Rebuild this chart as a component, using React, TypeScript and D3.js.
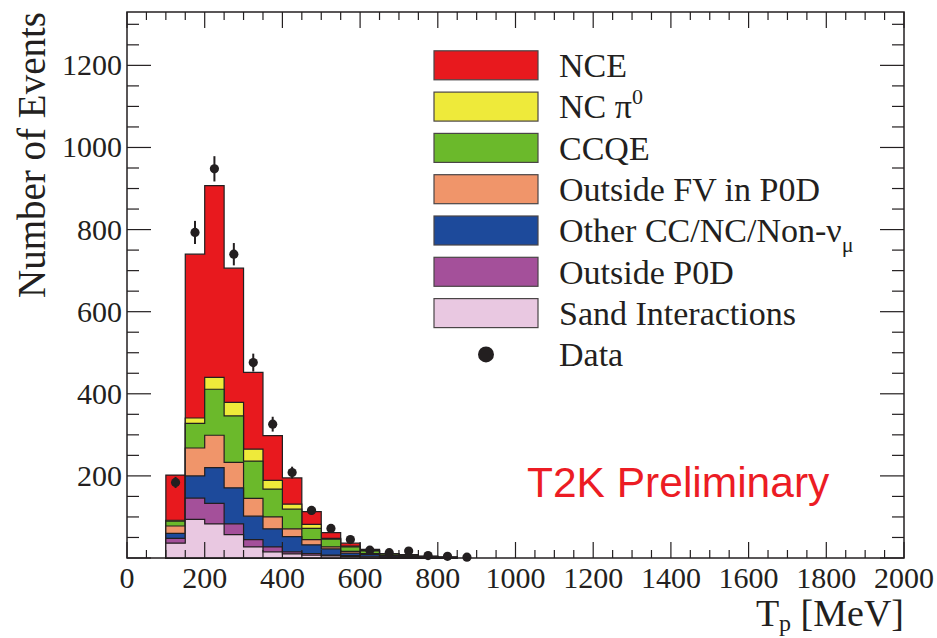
import React from "react";
import * as d3 from "d3";

// Proton kinetic energy bins (lower edges, MeV), 50 MeV wide
const binLow = [100, 150, 200, 250, 300, 350, 400, 450, 500, 550, 600, 650, 700, 750, 800];
const binWidth = 50;

// MC components, bottom of the stack first
const sand = [36, 94, 83, 57, 27, 15, 10, 7, 5, 4, 3, 2, 1, 1, 0];
const outsideP0D = [12, 52, 50, 26, 18, 12, 5, 4, 2, 2, 1, 1, 1, 0, 0];
const otherCC = [12, 54, 87, 88, 57, 44, 37, 21, 15, 6, 5, 3, 2, 1, 1];
const outsideFV = [18, 68, 79, 62, 43, 29, 19, 13, 5, 4, 2, 1, 1, 1, 0];
const ccqe = [12, 60, 112, 113, 91, 68, 48, 27, 19, 11, 6, 3, 2, 1, 1];
const ncPi0 = [2, 13, 29, 33, 29, 21, 12, 10, 2, 2, 1, 0, 0, 0, 0];
const nce = [110, 399, 467, 327, 187, 109, 64, 31, 14, 7, 3, 1, 1, 0, 0];

// Data points (bin centres, counts)
const dataX = [125, 175, 225, 275, 325, 375, 425, 475, 525, 575, 625, 675, 725, 775, 825, 875];
const dataY = [184, 793, 948, 740, 476, 326, 208, 116, 72, 45, 19, 13, 17, 6, 4, 2];

const xTicks = [0, 200, 400, 600, 800, 1000, 1200, 1400, 1600, 1800, 2000];
const yTicks = [200, 400, 600, 800, 1000, 1200];

const layerKeys = ["sand", "outsideP0D", "otherCC", "outsideFV", "ccqe", "ncPi0", "nce"];
const layerValues: Record<string, number[]> = {
  sand, outsideP0D, otherCC, outsideFV, ccqe, ncPi0, nce,
};
const layerColors: Record<string, string> = {
  nce: "#e8191e",
  ncPi0: "#eeea3a",
  ccqe: "#6bb92b",
  outsideFV: "#f0956a",
  otherCC: "#1d4a9b",
  outsideP0D: "#a4509a",
  sand: "#e9c8e1",
};

const legendRows = [
  { key: "nce", label: "NCE" },
  { key: "ncPi0", label: "NC π", sup: "0" },
  { key: "ccqe", label: "CCQE" },
  { key: "outsideFV", label: "Outside FV in P0D" },
  { key: "otherCC", label: "Other CC/NC/Non-ν", sub: "μ" },
  { key: "outsideP0D", label: "Outside P0D" },
  { key: "sand", label: "Sand Interactions" },
  { key: "data", label: "Data" },
];

const W = 937;
const H = 638;
const left = 127, right = 904, top = 12, bottom = 558;
const ink = "#231f20";
const serif = "'Liberation Serif', 'Times New Roman', serif";

export default function App() {
  const x = d3.scaleLinear().domain([0, 2000]).range([left, right]);
  const y = d3.scaleLinear().domain([0, 1330]).range([bottom, top]);

  const rows = binLow.map((lo, i) => {
    const r: Record<string, number> = { lo };
    layerKeys.forEach((k) => (r[k] = layerValues[k][i]));
    return r;
  });
  const stacked = d3.stack<Record<string, number>>().keys(layerKeys)(rows);

  // cumulative histograms, drawn from the top component down so each covers the one above
  const area = d3
    .area<[number, number]>()
    .x((d) => x(d[0]))
    .y0(y(0))
    .y1((d) => y(d[1]));

  const cumulativePaths = stacked
    .slice()
    .reverse()
    .map((series) => {
      const pts: [number, number][] = [];
      series.forEach((s, i) => {
        const lo = binLow[i];
        pts.push([lo, s[1]], [lo + binWidth, s[1]]);
      });
      return { key: series.key, d: area(pts) || "" };
    });

  const minorX = d3.range(0, 2001, 50);
  const minorY = d3.range(0, 1330, 50);

  return (
    <svg
      width={W}
      height={H}
      style={{ position: "fixed", left: 0, top: 0, background: "#fff" }}
      fontFamily={serif}
    >
      {/* stacked MC */}
      {cumulativePaths.map((p) => (
        <path key={p.key} d={p.d} fill={layerColors[p.key]} stroke={ink} strokeWidth={1.2} />
      ))}

      {/* data with statistical errors */}
      {dataX.map((xv, i) => {
        const v = dataY[i];
        const e = Math.sqrt(v);
        return (
          <g key={xv}>
            <line x1={x(xv)} x2={x(xv)} y1={y(v - e)} y2={y(v + e)} stroke={ink} strokeWidth={2} />
            <circle cx={x(xv)} cy={y(v)} r={4.6} fill={ink} />
          </g>
        );
      })}

      {/* frame */}
      <rect x={left} y={top} width={right - left} height={bottom - top} fill="none" stroke={ink} strokeWidth={1.5} />

      {/* x ticks, bottom and top */}
      {minorX.map((v) => {
        const major = v % 200 === 0;
        const len = major ? 16 : 8;
        return (
          <g key={"xt" + v}>
            <line x1={x(v)} x2={x(v)} y1={bottom} y2={bottom - len} stroke={ink} strokeWidth={1.2} />
            <line x1={x(v)} x2={x(v)} y1={top} y2={top + len} stroke={ink} strokeWidth={1.2} />
          </g>
        );
      })}
      {/* y ticks, left and right */}
      {minorY.map((v) => {
        const major = v % 200 === 0;
        const len = major ? 24 : 12;
        return (
          <g key={"yt" + v}>
            <line x1={left} x2={left + len} y1={y(v)} y2={y(v)} stroke={ink} strokeWidth={1.2} />
            <line x1={right} x2={right - len} y1={y(v)} y2={y(v)} stroke={ink} strokeWidth={1.2} />
          </g>
        );
      })}

      {/* tick labels */}
      {xTicks.map((v) => (
        <text key={"xl" + v} x={x(v)} y={588} textAnchor="middle" fontSize={30} fill={ink}>
          {v}
        </text>
      ))}
      {yTicks.map((v) => (
        <text key={"yl" + v} x={122} y={y(v) + 10} textAnchor="end" fontSize={30} fill={ink}>
          {v}
        </text>
      ))}

      {/* axis titles */}
      <text x={904} y={626} textAnchor="end" fontSize={38} fill={ink}>
        T<tspan fontSize={24} dy={5}>p</tspan>
        <tspan dy={-5}> [MeV]</tspan>
      </text>
      <text
        transform="translate(45,12) rotate(-90)"
        textAnchor="end"
        fontSize={39}
        fill={ink}
      >
        Number of Events
      </text>

      {/* legend */}
      {legendRows.map((r, i) => {
        const cy = 65.3 + i * 41.3;
        return (
          <g key={r.key}>
            {r.key === "data" ? (
              <circle cx={486} cy={cy} r={8} fill={ink} />
            ) : (
              <rect x={434} y={cy - 14.5} width={104} height={29} fill={layerColors[r.key]} stroke="#4a4546" strokeWidth={1.2} />
            )}
            <text x={559} y={cy + 11.7} fontSize={34} fill={ink}>
              {r.label}
              {r.sup && (
                <tspan fontSize={22} dy={-14}>
                  {r.sup}
                </tspan>
              )}
              {r.sub && (
                <tspan fontSize={22} dy={10}>
                  {r.sub}
                </tspan>
              )}
            </text>
          </g>
        );
      })}

      <text x={527} y={497} fontSize={42.5} fill="#ec1c24" fontFamily="'Liberation Sans', Arial, sans-serif">
        T2K Preliminary
      </text>
    </svg>
  );
}
